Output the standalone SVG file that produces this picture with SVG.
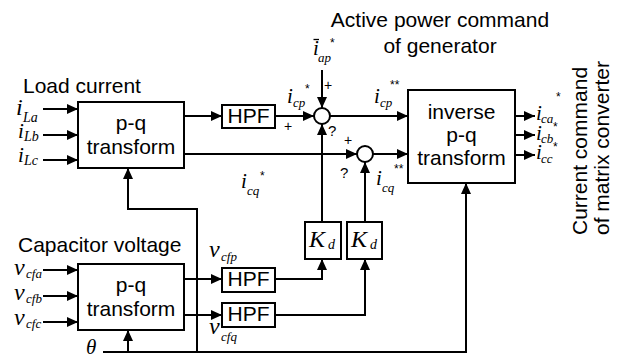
<svg xmlns="http://www.w3.org/2000/svg" width="617" height="364" viewBox="0 0 617 364">
<defs>
<marker id="ah" markerUnits="userSpaceOnUse" markerWidth="12" markerHeight="10" refX="11" refY="5" orient="auto">
<path d="M0,0 L11,5 L0,10 z" fill="#000"/>
</marker>
<style>
.box{fill:#fff;stroke:#000;stroke-width:2}
.ln{fill:none;stroke:#000;stroke-width:2}
.ar{fill:none;stroke:#000;stroke-width:2;marker-end:url(#ah)}
.t{font-family:"Liberation Sans",Arial,sans-serif;font-size:21px;fill:#000}
.tc{font-family:"Liberation Sans",Arial,sans-serif;font-size:21px;fill:#000;text-anchor:middle}
.v{font-family:"Liberation Serif","Times New Roman",serif;font-style:italic;fill:#000}
.s{font-family:"Liberation Sans",Arial,sans-serif;fill:#000}
</style>
</defs>
<rect width="617" height="364" fill="#fff"/>

<g id="connectors">
<path class="ar" d="M43,109 H78"/>
<path class="ar" d="M43,135 H78"/>
<path class="ar" d="M43,160 H78"/>
<path class="ar" d="M184,116 H222"/>
<path class="ar" d="M275,116 H314"/>
<path class="ar" d="M330,116 H408"/>
<path class="ar" d="M322,70 V108"/>
<path class="ar" d="M184,154 H357"/>
<path class="ar" d="M373,154 H408"/>
<path class="ar" d="M322,222 V124"/>
<path class="ar" d="M365,222 V162"/>
<path class="ar" d="M275,279 H322 V259"/>
<path class="ar" d="M275,315 H365 V259"/>
<path class="ar" d="M43,270 H78"/>
<path class="ar" d="M43,296 H78"/>
<path class="ar" d="M43,322 H78"/>
<path class="ar" d="M184,279 H222"/>
<path class="ar" d="M184,315 H222"/>
<path class="ar" d="M103,352 H466 V183"/>
<path class="ar" d="M128,352 V330"/>
<path class="ar" d="M197,352 V209 H128 V168"/>
<path class="ar" d="M515,116 H535"/>
<path class="ar" d="M515,135 H535"/>
<path class="ar" d="M515,155 H535"/>
</g>

<g id="pq1">
<rect class="box" x="78" y="102" width="106" height="66"/>
<text class="tc" x="131" y="130">p-q</text>
<text class="tc" x="131" y="154">transform</text>
</g>
<g id="hpf1">
<rect class="box" x="222" y="105" width="53" height="23"/>
<text class="tc" x="248.5" y="123">HPF</text>
</g>
<g id="sum1">
<circle class="box" cx="322" cy="116" r="8"/>
</g>
<g id="sum2">
<circle class="box" cx="365" cy="154" r="8"/>
</g>
<g id="inv">
<rect class="box" x="408" y="90" width="107" height="93"/>
<text class="tc" x="461.5" y="119">inverse</text>
<text class="tc" x="461.5" y="142">p-q</text>
<text class="tc" x="461.5" y="165">transform</text>
</g>
<g id="pq2">
<rect class="box" x="78" y="264" width="106" height="66"/>
<text class="tc" x="131" y="292">p-q</text>
<text class="tc" x="131" y="316">transform</text>
</g>
<g id="hpf3">
<rect class="box" x="222" y="268" width="53" height="24"/>
<text class="tc" x="248.5" y="286">HPF</text>
</g>
<g id="hpf4">
<rect class="box" x="222" y="303" width="53" height="24"/>
<text class="tc" x="248.5" y="321">HPF</text>
</g>
<g id="kd1">
<rect class="box" x="305" y="222" width="36" height="37"/>
<text class="v" x="309" y="247" font-size="24">K</text>
<text class="v" x="328" y="249" font-size="14">d</text>
</g>
<g id="kd2">
<rect class="box" x="347" y="222" width="35" height="37"/>
<text class="v" x="351" y="247" font-size="24">K</text>
<text class="v" x="370" y="249" font-size="14">d</text>
</g>

<g id="labels">
<text class="t" x="23" y="93">Load current</text>
<text class="t" x="18" y="252">Capacitor voltage</text>
<text class="tc" x="440" y="27">Active power command</text>
<text class="tc" x="440" y="53">of generator</text>
<text class="t" transform="translate(587,235) rotate(-90)">Current command</text>
<text class="t" transform="translate(609,235) rotate(-90)">of matrix converter</text>

<text class="v" x="16" y="115" font-size="24">i</text><text class="v" x="23" y="122" font-size="14">La</text>
<text class="v" x="18" y="138" font-size="21">i</text><text class="v" x="24" y="141" font-size="14">Lb</text>
<text class="v" x="18" y="162" font-size="21">i</text><text class="v" x="24" y="165" font-size="14">Lc</text>

<text class="v" x="14" y="275" font-size="24">v</text><text class="v" x="26" y="278" font-size="13">cfa</text>
<text class="v" x="14" y="300" font-size="24">v</text><text class="v" x="26" y="303" font-size="13">cfb</text>
<text class="v" x="14" y="325" font-size="24">v</text><text class="v" x="26" y="328" font-size="13">cfc</text>
<text class="v" x="86" y="354" font-size="21">θ</text>

<text class="v" x="209" y="257" font-size="24">v</text><text class="v" x="221" y="261" font-size="13">cfp</text>
<text class="v" x="209" y="334" font-size="24">v</text><text class="v" x="221" y="341" font-size="13">cfq</text>

<text class="v" x="287" y="103" font-size="21">i</text><text class="v" x="293" y="107" font-size="13">cp</text>
<text class="s" x="305" y="93" font-size="12">*</text>
<text class="s" x="284" y="131" font-size="14">+</text>

<text class="v" x="313" y="55" font-size="21">i</text><text class="v" x="318" y="62" font-size="13">ap</text>
<path d="M313.5,39.5 H319" stroke="#000" stroke-width="1.3"/>
<text class="s" x="330" y="47" font-size="12">*</text>
<text class="s" x="324" y="90" font-size="14">+</text>
<text class="s" x="328" y="136" font-size="15">?</text>

<text class="v" x="374" y="103" font-size="21">i</text><text class="v" x="380" y="107" font-size="13">cp</text>
<text class="s" x="390" y="89" font-size="12">**</text>

<text class="s" x="344" y="145" font-size="14">+</text>
<text class="s" x="340" y="178" font-size="15">?</text>
<text class="v" x="376" y="185" font-size="21">i</text><text class="v" x="382" y="192" font-size="13">cq</text>
<text class="s" x="394" y="173" font-size="12">**</text>

<text class="v" x="241" y="188" font-size="21">i</text><text class="v" x="247" y="195" font-size="13">cq</text>
<text class="s" x="260" y="180" font-size="12">*</text>

<text class="v" x="536" y="120" font-size="21">i</text><text class="v" x="541" y="123" font-size="13">ca</text>
<text class="s" x="556" y="101" font-size="12">*</text>
<text class="s" x="553" y="131" font-size="12">*</text>
<text class="v" x="536" y="140" font-size="21">i</text><text class="v" x="541" y="143" font-size="13">cb</text>
<text class="s" x="553" y="151" font-size="12">*</text>
<text class="v" x="536" y="159" font-size="21">i</text><text class="v" x="541" y="163" font-size="13">cc</text>
</g>
</svg>
